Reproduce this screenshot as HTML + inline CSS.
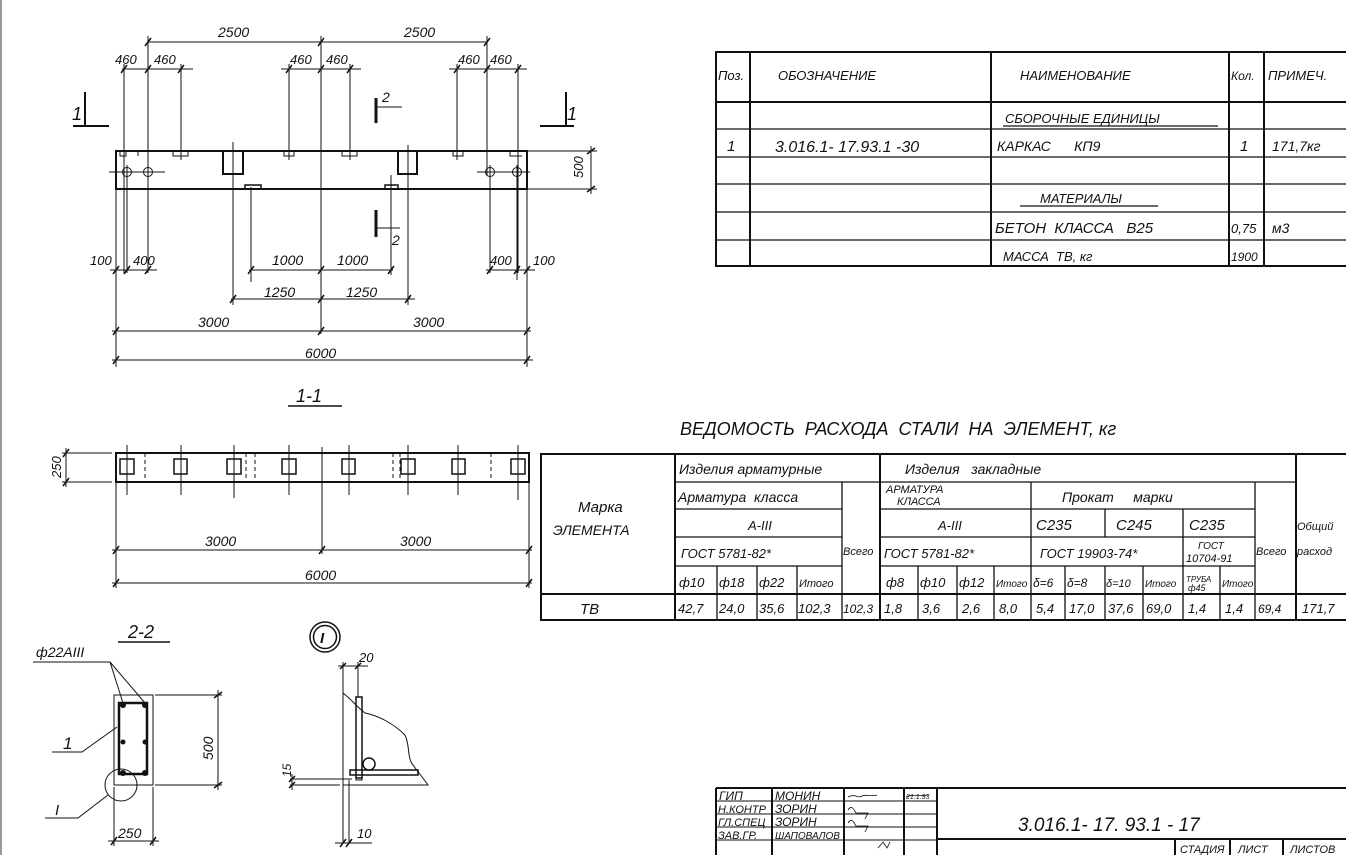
<!DOCTYPE html>
<html><head><meta charset="utf-8"><style>
html,body{margin:0;padding:0;background:#fff;}
svg{display:block;}
text{font-family:"Liberation Sans","DejaVu Sans",sans-serif;font-style:italic;fill:#111;}
</style></head><body>
<svg width="1346" height="855" viewBox="0 0 1346 855" xmlns="http://www.w3.org/2000/svg">
<rect x="0" y="0" width="1346" height="855" fill="#fff"/>
<line x1="1" y1="0" x2="1" y2="855" stroke="#999" stroke-width="2"/>
<g stroke="#111" fill="none" stroke-width="1">
<!-- TOP ELEVATION -->
<rect x="116" y="151" width="411" height="38" stroke-width="2"/>
<!-- dims top -->
<line x1="148" y1="42" x2="487" y2="42"/>
<line x1="122" y1="69" x2="193" y2="69"/><line x1="281" y1="69" x2="361" y2="69"/><line x1="449" y1="69" x2="527" y2="69"/>
<line x1="148" y1="36" x2="148" y2="175"/><line x1="321" y1="36" x2="321" y2="334"/><line x1="487" y1="36" x2="487" y2="175"/>
<line x1="124" y1="64" x2="124" y2="273"/><line x1="181" y1="64" x2="181" y2="160"/><line x1="289" y1="64" x2="289" y2="160"/>
<line x1="350" y1="64" x2="350" y2="160"/><line x1="457" y1="64" x2="457" y2="160"/><line x1="518" y1="64" x2="518" y2="273"/>
<g stroke-width="1.5">
<line x1="145" y1="46" x2="151" y2="38"/><line x1="318" y1="46" x2="324" y2="38"/><line x1="484" y1="46" x2="490" y2="38"/>
<line x1="121" y1="73" x2="127" y2="65"/><line x1="145" y1="73" x2="151" y2="65"/><line x1="178" y1="73" x2="184" y2="65"/>
<line x1="286" y1="73" x2="292" y2="65"/><line x1="318" y1="73" x2="324" y2="65"/><line x1="347" y1="73" x2="353" y2="65"/>
<line x1="454" y1="73" x2="460" y2="65"/><line x1="484" y1="73" x2="490" y2="65"/><line x1="515" y1="73" x2="521" y2="65"/>
</g>
<!-- notches -->
<path d="M120 151v5h6v-5M138 151v5M173 151v5h15v-5M284 151v5h10v-5M342 151v5h15v-5M453 151v5h10v-5M510 151v5h12"/>
<!-- holes -->
<circle cx="127" cy="172" r="4.5"/><circle cx="148" cy="172" r="4.5"/><circle cx="490" cy="172" r="4.5"/><circle cx="517" cy="172" r="4.5"/>
<line x1="109" y1="172" x2="165" y2="172"/><line x1="477" y1="172" x2="530" y2="172"/>
<line x1="127" y1="165" x2="127" y2="273"/><line x1="148" y1="165" x2="148" y2="273"/><line x1="490" y1="165" x2="490" y2="273"/><line x1="517" y1="165" x2="517" y2="280"/>
<!-- embedded -->
<rect x="223" y="151" width="20" height="23" stroke-width="2"/><rect x="398" y="151" width="19" height="23" stroke-width="2"/>
<rect x="245" y="185" width="16" height="4" stroke-width="1.5"/><rect x="385" y="185" width="13" height="4" stroke-width="1.5"/>
<line x1="233" y1="142" x2="233" y2="305"/><line x1="408" y1="145" x2="408" y2="305"/>
<line x1="251" y1="187" x2="251" y2="282"/><line x1="391" y1="175" x2="391" y2="275"/>
<line x1="116" y1="189" x2="116" y2="367"/><line x1="527" y1="189" x2="527" y2="367"/>
<!-- sections 1 -->
<line x1="85" y1="92" x2="85" y2="126" stroke-width="2"/><line x1="73" y1="126" x2="109" y2="126" stroke-width="2"/>
<line x1="566" y1="92" x2="566" y2="126" stroke-width="2"/><line x1="540" y1="126" x2="574" y2="126" stroke-width="2"/>
<!-- sections 2 -->
<path d="M376 98v25" stroke-width="3"/><path d="M376 107h26"/><path d="M376 210v27" stroke-width="3"/><path d="M376 228h24"/>
<!-- 500 -->
<line x1="528" y1="151" x2="597" y2="151"/><line x1="528" y1="189" x2="597" y2="189"/><line x1="591" y1="146" x2="591" y2="194"/>
<line x1="587" y1="154" x2="595" y2="148" stroke-width="1.5"/><line x1="587" y1="192" x2="595" y2="186" stroke-width="1.5"/>
<!-- bottom dims -->
<line x1="110" y1="270" x2="157" y2="270"/><line x1="486" y1="270" x2="535" y2="270"/>
<line x1="249" y1="270" x2="393" y2="270"/><line x1="231" y1="299" x2="415" y2="299"/>
<line x1="112" y1="331" x2="531" y2="331"/><line x1="112" y1="360" x2="533" y2="360"/>
<g stroke-width="1.5">
<line x1="113" y1="274" x2="119" y2="266"/><line x1="124" y1="274" x2="130" y2="266"/><line x1="145" y1="274" x2="151" y2="266"/>
<line x1="487" y1="274" x2="493" y2="266"/><line x1="514" y1="274" x2="520" y2="266"/><line x1="524" y1="274" x2="530" y2="266"/>
<line x1="248" y1="274" x2="254" y2="266"/><line x1="318" y1="274" x2="324" y2="266"/><line x1="388" y1="274" x2="394" y2="266"/>
<line x1="230" y1="303" x2="236" y2="295"/><line x1="318" y1="303" x2="324" y2="295"/><line x1="405" y1="303" x2="411" y2="295"/>
<line x1="113" y1="335" x2="119" y2="327"/><line x1="318" y1="335" x2="324" y2="327"/><line x1="524" y1="335" x2="530" y2="327"/>
<line x1="113" y1="364" x2="119" y2="356"/><line x1="524" y1="364" x2="530" y2="356"/>
</g>
<line x1="288" y1="406" x2="342" y2="406" stroke-width="1.5"/>

<!-- PLAN VIEW -->
<rect x="116" y="453" width="413" height="29" stroke-width="2"/>
<g stroke-width="1.5">
<rect x="120" y="459" width="14" height="15"/><rect x="174" y="459" width="13" height="15"/><rect x="227" y="459" width="14" height="15"/>
<rect x="282" y="459" width="14" height="15"/><rect x="342" y="459" width="13" height="15"/><rect x="401" y="459" width="14" height="15"/>
<rect x="452" y="459" width="13" height="15"/><rect x="511" y="459" width="14" height="15"/>
</g>
<g stroke-dasharray="4,3"><line x1="145" y1="453" x2="145" y2="482"/><line x1="246" y1="453" x2="246" y2="482"/><line x1="255" y1="453" x2="255" y2="482"/><line x1="393" y1="453" x2="393" y2="482"/><line x1="400" y1="453" x2="400" y2="482"/><line x1="491" y1="453" x2="491" y2="482"/></g>
<g><line x1="127" y1="445" x2="127" y2="495"/><line x1="181" y1="445" x2="181" y2="495"/><line x1="234" y1="445" x2="234" y2="498"/><line x1="289" y1="445" x2="289" y2="495"/><line x1="349" y1="445" x2="349" y2="495"/><line x1="408" y1="445" x2="408" y2="495"/><line x1="458" y1="445" x2="458" y2="495"/><line x1="518" y1="445" x2="518" y2="500"/></g>
<line x1="322" y1="447" x2="322" y2="554"/>
<line x1="116" y1="482" x2="116" y2="588"/><line x1="529" y1="482" x2="529" y2="588"/>
<line x1="62" y1="453" x2="112" y2="453"/><line x1="62" y1="482" x2="112" y2="482"/><line x1="66" y1="448" x2="66" y2="487"/>
<line x1="112" y1="550" x2="532" y2="550"/><line x1="112" y1="583" x2="532" y2="583"/>
<g stroke-width="1.5"><line x1="113" y1="554" x2="119" y2="546"/><line x1="319" y1="554" x2="325" y2="546"/><line x1="526" y1="554" x2="532" y2="546"/><line x1="113" y1="587" x2="119" y2="579"/><line x1="526" y1="587" x2="532" y2="579"/><line x1="63" y1="457" x2="69" y2="449"/><line x1="63" y1="486" x2="69" y2="478"/></g>

<!-- 2-2 -->
<line x1="118" y1="642" x2="170" y2="642" stroke-width="1.5"/>
<rect x="114" y="695" width="39" height="90"/>
<rect x="119" y="703" width="28" height="71" stroke-width="2.5"/>
<g fill="#111" stroke="none"><circle cx="123" cy="705" r="3"/><circle cx="145" cy="705" r="3"/><circle cx="123" cy="742" r="2.5"/><circle cx="145" cy="742" r="2.5"/><circle cx="123" cy="773" r="3"/><circle cx="145" cy="773" r="3"/></g>
<circle cx="121" cy="785" r="16"/>
<path d="M33 662H110L123 703M110 662L145 703"/>
<path d="M52 752H82L117 727"/>
<path d="M45 818H78L108 795"/>
<line x1="155" y1="695" x2="222" y2="695"/><line x1="155" y1="785" x2="222" y2="785"/><line x1="218" y1="690" x2="218" y2="790"/>
<line x1="114" y1="787" x2="114" y2="846"/><line x1="153" y1="787" x2="153" y2="846"/><line x1="108" y1="841" x2="159" y2="841"/>
<g stroke-width="1.5"><line x1="214" y1="698" x2="222" y2="692"/><line x1="214" y1="788" x2="222" y2="782"/><line x1="111" y1="845" x2="117" y2="837"/><line x1="150" y1="845" x2="156" y2="837"/></g>

<!-- detail I -->
<circle cx="325" cy="637" r="15" stroke-width="1.5"/><circle cx="325" cy="637" r="11.5" stroke-width="1.5"/>
<line x1="343" y1="662" x2="343" y2="843"/>
<line x1="358" y1="662" x2="358" y2="697"/>
<path d="M343 693C352 700 356 706 365 713C380 716 395 725 405 735C410 745 407 758 413 765C418 772 423 778 428 785H343"/>
<rect x="356" y="697" width="6" height="81" stroke-width="1.5"/>
<rect x="350" y="770" width="68" height="5" stroke-width="1.5"/>
<circle cx="369" cy="764" r="6" stroke-width="1.5"/>
<rect x="356" y="775" width="6" height="5"/>
<line x1="290" y1="779" x2="352" y2="779"/><line x1="290" y1="785" x2="340" y2="785"/>
<line x1="349" y1="780" x2="349" y2="843"/>
<line x1="338" y1="666" x2="368" y2="666"/><line x1="335" y1="843" x2="372" y2="843"/>
<line x1="292" y1="774" x2="292" y2="790"/>
<g stroke-width="1.5"><line x1="340" y1="669" x2="346" y2="663"/><line x1="355" y1="669" x2="361" y2="663"/><line x1="340" y1="847" x2="346" y2="839"/><line x1="346" y1="847" x2="352" y2="839"/><line x1="289" y1="782" x2="295" y2="776"/><line x1="289" y1="788" x2="295" y2="782"/></g>

<!-- SPEC TABLE -->
<g stroke-width="2">
<rect x="716" y="52" width="640" height="214"/>
<line x1="716" y1="102" x2="1346" y2="102"/>
<line x1="750" y1="52" x2="750" y2="266"/><line x1="991" y1="52" x2="991" y2="266"/><line x1="1229" y1="52" x2="1229" y2="266"/><line x1="1264" y1="52" x2="1264" y2="266"/>
</g>
<g stroke-width="1.2">
<line x1="716" y1="129" x2="1346" y2="129"/><line x1="716" y1="157" x2="1346" y2="157"/><line x1="716" y1="184" x2="1346" y2="184"/><line x1="716" y1="212" x2="1346" y2="212"/><line x1="716" y1="240" x2="1346" y2="240"/>
<line x1="1003" y1="126" x2="1218" y2="126"/><line x1="1020" y1="206" x2="1158" y2="206"/>
</g>

<!-- STEEL TABLE -->
<g stroke-width="2">
<rect x="541" y="454" width="810" height="166"/>
<line x1="541" y1="594" x2="1346" y2="594"/>
<line x1="675" y1="454" x2="675" y2="620"/>
<line x1="880" y1="454" x2="880" y2="620"/>
<line x1="1296" y1="454" x2="1296" y2="620"/>
</g>
<g stroke-width="1.3">
<line x1="675" y1="482" x2="1296" y2="482"/>
<line x1="675" y1="509" x2="842" y2="509"/><line x1="880" y1="509" x2="1255" y2="509"/>
<line x1="675" y1="537" x2="842" y2="537"/><line x1="880" y1="537" x2="1255" y2="537"/>
<line x1="675" y1="566" x2="842" y2="566"/><line x1="880" y1="566" x2="1255" y2="566"/>
<line x1="842" y1="482" x2="842" y2="620"/><line x1="1031" y1="482" x2="1031" y2="620"/><line x1="1255" y1="482" x2="1255" y2="620"/>
<line x1="1105" y1="509" x2="1105" y2="537"/><line x1="1183" y1="509" x2="1183" y2="620"/>
<line x1="717" y1="566" x2="717" y2="620"/><line x1="757" y1="566" x2="757" y2="620"/><line x1="797" y1="566" x2="797" y2="620"/>
<line x1="918" y1="566" x2="918" y2="620"/><line x1="957" y1="566" x2="957" y2="620"/><line x1="994" y1="566" x2="994" y2="620"/>
<line x1="1065" y1="566" x2="1065" y2="620"/><line x1="1105" y1="566" x2="1105" y2="620"/><line x1="1143" y1="566" x2="1143" y2="620"/><line x1="1220" y1="566" x2="1220" y2="620"/>
</g>

<!-- TITLE BLOCK -->
<g stroke-width="2">
<line x1="716" y1="788" x2="1346" y2="788"/>
<line x1="716" y1="788" x2="716" y2="855"/><line x1="772" y1="788" x2="772" y2="855"/><line x1="844" y1="788" x2="844" y2="855"/>
<line x1="904" y1="788" x2="904" y2="855"/><line x1="937" y1="788" x2="937" y2="855"/>
<line x1="937" y1="839" x2="1346" y2="839"/>
<line x1="1175" y1="839" x2="1175" y2="855"/><line x1="1230" y1="839" x2="1230" y2="855"/><line x1="1283" y1="839" x2="1283" y2="855"/>
</g>
<g stroke-width="1"><line x1="716" y1="801" x2="937" y2="801"/><line x1="716" y1="814" x2="937" y2="814"/><line x1="716" y1="827" x2="937" y2="827"/><line x1="716" y1="840" x2="937" y2="840"/></g>
<g stroke-width="0.8"><path d="M848 797c8-4 10 2 14-1c5-2 10 1 15-1M906 797c5-3 10 0 22-2M848 810c4-6 6 0 8 3h12l-3 6M848 823c4-6 6 0 8 3h12l-3 6M878 848l5-6 4 6 3-6"/></g>
</g>

<!-- TEXT -->
<g font-size="14">
<text x="218" y="37">2500</text><text x="404" y="37">2500</text>
<text x="115" y="64" font-size="13">460</text><text x="154" y="64" font-size="13">460</text>
<text x="290" y="64" font-size="13">460</text><text x="326" y="64" font-size="13">460</text>
<text x="458" y="64" font-size="13">460</text><text x="490" y="64" font-size="13">460</text>
<text x="72" y="120" font-size="18">1</text><text x="567" y="120" font-size="18">1</text>
<text x="382" y="102" font-size="14">2</text><text x="392" y="245" font-size="14">2</text>
<text x="0" y="0" font-size="13" transform="translate(583,178) rotate(-90)">500</text>
<text x="90" y="265" font-size="13">100</text><text x="133" y="265" font-size="13">400</text>
<text x="490" y="265" font-size="13">400</text><text x="533" y="265" font-size="13">100</text>
<text x="272" y="265">1000</text><text x="337" y="265">1000</text>
<text x="264" y="297">1250</text><text x="346" y="297">1250</text>
<text x="198" y="327">3000</text><text x="413" y="327">3000</text>
<text x="305" y="358">6000</text>
<text x="296" y="402" font-size="18">1-1</text>
<text x="0" y="0" font-size="13" transform="translate(61,478) rotate(-90)">250</text>
<text x="205" y="546">3000</text><text x="400" y="546">3000</text>
<text x="305" y="580">6000</text>
<text x="128" y="638" font-size="18">2-2</text>
<text x="36" y="657" font-size="14">ф22АIII</text>
<text x="63" y="749" font-size="17">1</text>
<text x="55" y="815" font-size="15">I</text>
<text x="0" y="0" font-size="14" transform="translate(213,760) rotate(-90)">500</text>
<text x="118" y="838">250</text>
<text x="320" y="643" font-size="15" font-weight="bold">I</text>
<text x="359" y="662" font-size="13">20</text>
<text x="0" y="0" font-size="12" transform="translate(291,777) rotate(-90)">15</text>
<text x="357" y="838" font-size="13">10</text>
</g>
<g font-size="13">
<text x="718" y="80">Поз.</text><text x="778" y="80">ОБОЗНАЧЕНИЕ</text><text x="1020" y="80">НАИМЕНОВАНИЕ</text>
<text x="1231" y="80" font-size="12">Кол.</text><text x="1268" y="80">ПРИМЕЧ.</text>
<text x="1005" y="123">СБОРОЧНЫЕ ЕДИНИЦЫ</text>
<text x="727" y="151" font-size="15">1</text><text x="775" y="152" font-size="16">3.016.1- 17.93.1 -30</text>
<text x="997" y="151" font-size="14">КАРКАС&#160;&#160;&#160;&#160;&#160;&#160;КП9</text>
<text x="1240" y="151" font-size="15">1</text><text x="1272" y="151" font-size="14">171,7кг</text>
<text x="1040" y="203">МАТЕРИАЛЫ</text>
<text x="995" y="233" font-size="15">БЕТОН&#160;&#160;КЛАССА&#160;&#160;&#160;В25</text>
<text x="1231" y="233" font-size="13">0,75</text><text x="1272" y="233" font-size="14">м3</text>
<text x="1003" y="261">МАССА&#160;&#160;ТВ,&#160;кг</text><text x="1231" y="261" font-size="12">1900</text>
<text x="680" y="435" font-size="18">ВЕДОМОСТЬ&#160;&#160;РАСХОДА&#160;&#160;СТАЛИ&#160;&#160;НА&#160;&#160;ЭЛЕМЕНТ,&#160;кг</text>
<text x="578" y="512" font-size="15">Марка</text><text x="553" y="535" font-size="14">ЭЛЕМЕНТА</text>
<text x="580" y="614" font-size="15">ТВ</text>
<text x="679" y="474" font-size="14">Изделия арматурные</text>
<text x="905" y="474" font-size="14">Изделия&#160;&#160;&#160;закладные</text>
<text x="678" y="502" font-size="14">Арматура&#160;&#160;класса</text>
<text x="748" y="530">А-III</text>
<text x="681" y="558">ГОСТ 5781-82*</text>
<text x="843" y="555" font-size="11">Всего</text>
<text x="886" y="493" font-size="11">АРМАТУРА</text><text x="897" y="505" font-size="11">КЛАССА</text>
<text x="938" y="530">А-III</text>
<text x="884" y="558">ГОСТ 5781-82*</text>
<text x="1062" y="502" font-size="14">Прокат&#160;&#160;&#160;&#160;&#160;марки</text>
<text x="1036" y="530" font-size="15">С235</text><text x="1116" y="530" font-size="15">С245</text><text x="1189" y="530" font-size="15">С235</text>
<text x="1040" y="558">ГОСТ 19903-74*</text>
<text x="1198" y="549" font-size="10">ГОСТ</text><text x="1186" y="562" font-size="11">10704-91</text>
<text x="1256" y="555" font-size="11">Всего</text>
<text x="1297" y="530" font-size="11">Общий</text><text x="1297" y="555" font-size="11">расход</text>
<g font-size="13">
<text x="679" y="587">ф10</text><text x="719" y="587">ф18</text><text x="759" y="587">ф22</text><text x="799" y="587" font-size="11">Итого</text>
<text x="886" y="587">ф8</text><text x="920" y="587">ф10</text><text x="959" y="587">ф12</text><text x="996" y="587" font-size="10">Итого</text>
<text x="1033" y="587" font-size="12">δ=6</text><text x="1067" y="587" font-size="12">δ=8</text><text x="1106" y="587" font-size="11">δ=10</text><text x="1145" y="587" font-size="10">Итого</text>
<text x="1186" y="582" font-size="8">ТРУБА</text><text x="1188" y="591" font-size="9">ф45</text><text x="1222" y="587" font-size="10">Итого</text>
<text x="678" y="613">42,7</text><text x="719" y="613">24,0</text><text x="759" y="613">35,6</text><text x="798" y="613">102,3</text><text x="843" y="613" font-size="12">102,3</text>
<text x="884" y="613">1,8</text><text x="922" y="613">3,6</text><text x="962" y="613">2,6</text><text x="999" y="613">8,0</text>
<text x="1036" y="613">5,4</text><text x="1069" y="613">17,0</text><text x="1108" y="613">37,6</text><text x="1146" y="613">69,0</text>
<text x="1188" y="613">1,4</text><text x="1225" y="613">1,4</text><text x="1258" y="613" font-size="12">69,4</text><text x="1302" y="613">171,7</text>
</g>
<g font-size="12">
<text x="719" y="800">ГИП</text><text x="775" y="800">МОНИН</text>
<text x="718" y="813" font-size="11">Н.КОНТР</text><text x="775" y="813">ЗОРИН</text>
<text x="718" y="826" font-size="11">ГЛ.СПЕЦ</text><text x="775" y="826">ЗОРИН</text>
<text x="718" y="839" font-size="11">ЗАВ.ГР.</text><text x="775" y="839" font-size="10">ШАПОВАЛОВ</text>
<text x="906" y="799" font-size="7">21.1.93</text>
<text x="1018" y="831" font-size="19">3.016.1- 17. 93.1 - 17</text>
<text x="1180" y="853" font-size="11">СТАДИЯ</text><text x="1238" y="853" font-size="11">ЛИСТ</text><text x="1290" y="853" font-size="11">ЛИСТОВ</text>
</g>
</g>
</svg>
</body></html>
